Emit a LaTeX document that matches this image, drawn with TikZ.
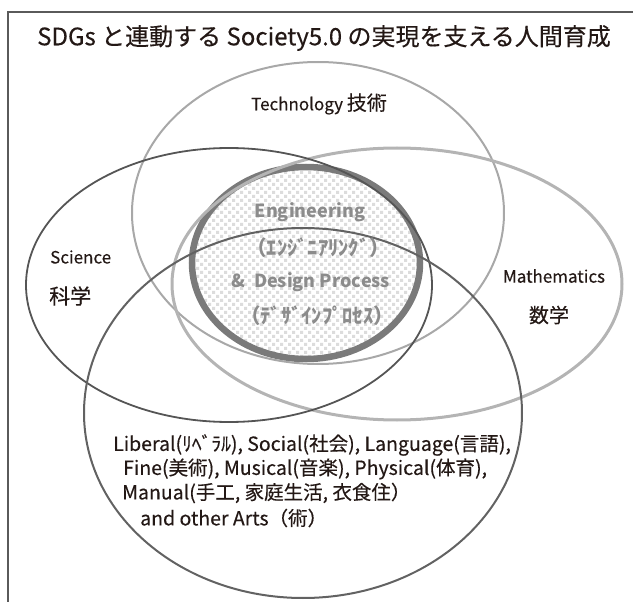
\documentclass[tikz,border=0pt]{standalone}
\usepackage{fontspec}
\setmainfont{Noto Sans CJK JP}[FakeBold=0.35]
\newfontfamily\engfont{Noto Sans CJK JP}
\usetikzlibrary{patterns}
\definecolor{frameC}{HTML}{5A5A5A}
\definecolor{techC}{HTML}{A8A8A8}
\definecolor{sciC}{HTML}{555555}
\definecolor{mathC}{HTML}{B4B4B4}
\definecolor{libC}{HTML}{626262}
\definecolor{engC}{HTML}{7A7A7A}
\definecolor{engTxt}{HTML}{8C8C8C}
\definecolor{dotC}{HTML}{DCDCDC}
\definecolor{txtC}{HTML}{231815}
\pgfdeclarepatternformonly{sqdots}{\pgfpoint{-1pt}{-1pt}}{\pgfpoint{9pt}{9pt}}{\pgfpoint{8pt}{8pt}}{%
  \pgfpathrectangle{\pgfpoint{0pt}{0pt}}{\pgfpoint{3pt}{3pt}}%
  \pgfpathrectangle{\pgfpoint{4pt}{4pt}}{\pgfpoint{3pt}{3pt}}%
  \pgfusepath{fill}}
\newcommand\bigJ[2]{{\fontsize{#1}{#1}\selectfont #2}}
\tikzset{
  frameline/.style={draw=frameC, line width=2pt},
  techE/.style={draw=techC, line width=2pt},
  sciE/.style={draw=sciC, line width=1.8pt},
  mathE/.style={draw=mathC, line width=3pt},
  libE/.style={draw=libC, line width=2pt},
  engE/.style={draw=engC, line width=6.5pt},
  engFill/.style={pattern=sqdots, pattern color=dotC},
  ttl/.style={inner sep=0pt, text=txtC, font=\fontsize{24}{26}\selectfont},
  lbl/.style={inner sep=0pt, text=txtC, font=\fontsize{17}{20}\selectfont},
  libT/.style={inner sep=0pt, text=txtC, font=\fontsize{19.5}{22}\selectfont},
  engT/.style={inner sep=0pt, text=engTxt, font=\engfont\fontsize{18}{21}\selectfont\bfseries},
}
\begin{document}
\begin{tikzpicture}[x=1pt,y=-1pt]
\useasboundingbox (0,0) rectangle (633,602);
% frame
\draw[frameline] (8,602) -- (8,12) -- (633,12);
% engineering core
\fill[white] (306,263) ellipse [x radius=114pt, y radius=96pt];
\fill[engFill] (306,263) ellipse [x radius=114pt, y radius=96pt];
\draw[engE] (306,263) ellipse [x radius=114pt, y radius=96pt];
% outer ellipses
\draw[techE] (318,213) ellipse [x radius=186pt, y radius=151pt];
\draw[mathE] (397,284) ellipse [x radius=225pt, y radius=136pt];
\draw[sciE] (229,285) ellipse [x radius=203pt, y radius=137pt];
\draw[libE] (303,413) ellipse [x radius=219pt, y radius=185pt];
% texts
\node[ttl] (title) at (324,38) {SDGs と連動する Society5.0 の実現を支える人間育成};
\node[lbl] (tech) at (319,104) {Technology \bigJ{20}{技術}};
\node[lbl, anchor=west] (sci) at (50,257) {Science};
\node[lbl, anchor=west] (sciJ) at (49,296) {\bigJ{21}{科学}};
\node[lbl] (math) at (554,276) {Mathematics};
\node[lbl] (mathJ) at (549,315) {\bigJ{20}{数学}};
\node[engT] (eng1) at (310,212) {Engineering};
\node[engT] (eng2) at (318,248) {\bigJ{20.5}{（ｴﾝｼﾞﾆｱﾘﾝｸﾞ）}};
\node[engT] (eng3) at (311,282) {\&\ \ Design Process};
\node[engT] (eng4) at (317,316) {\bigJ{20.5}{（ﾃﾞｻﾞｲﾝﾌﾟﾛｾｽ）}};
\node[libT, anchor=west] (lib1) at (113,445) {Liberal(ﾘﾍﾞﾗﾙ), Social(社会), Language(言語),};
\node[libT, anchor=west] (lib2) at (123,469) {Fine(美術), Musical(音楽), Physical(体育),};
\node[libT, anchor=west] (lib3) at (122,493) {Manual(手工, 家庭生活, 衣食住）};
\node[libT, anchor=west] (lib4) at (140,518) {and other Arts（術）};
\end{tikzpicture}
\end{document}
